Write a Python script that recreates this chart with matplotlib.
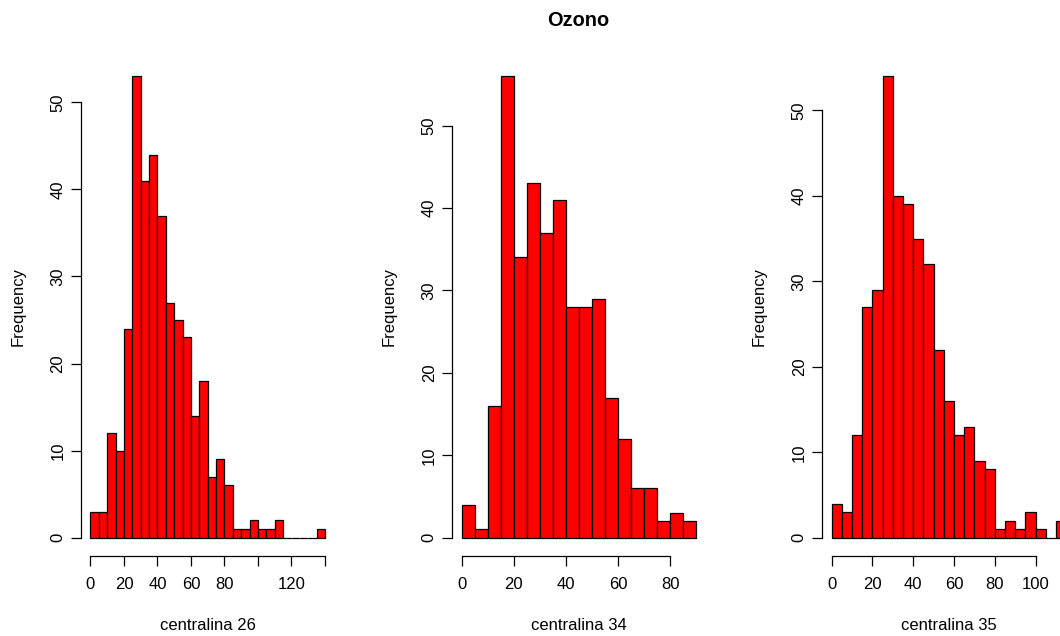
import numpy as np
import matplotlib
matplotlib.use("Agg")
import matplotlib.pyplot as plt

plt.rcParams['font.family'] = ['Liberation Sans', 'DejaVu Sans']

# Histogram counts per 5-unit bin, starting at 0
bin_width = 5
counts_26 = [3, 3, 12, 10, 24, 53, 41, 44, 37, 27, 25, 23, 14, 18, 7, 9, 6,
             1, 1, 2, 1, 1, 2, 0, 0, 0, 0, 1]
counts_34 = [4, 1, 16, 56, 34, 43, 37, 41, 28, 28, 29, 17, 12, 6, 6, 2, 3, 2]
counts_35 = [4, 3, 12, 27, 29, 54, 40, 39, 35, 32, 22, 16, 12, 13, 9, 8,
             1, 2, 1, 3, 1, 0, 2]

titles = ["centralina 26", "centralina 34", "centralina 35"]
xtick_values = [list(range(0, 141, 20)), list(range(0, 81, 20)), list(range(0, 101, 20))]
xtick_labels = [["0", "20", "40", "60", "80", "", "120", ""],
                ["0", "20", "40", "60", "80"],
                ["0", "20", "40", "60", "80", "100"]]
ytick_values = [0, 10, 20, 30, 40, 50]
main_title = "Ozono"

W, H = 1060, 636
fig = plt.figure(figsize=(W / 100, H / 100), dpi=100)

panel_left_px = [81.1, 452.3, 822.3]
panel_w_px = 253.2
panel_top_px, panel_bot_px = 57.7, 556.2

for i, (counts, xlab) in enumerate(zip([counts_26, counts_34, counts_35], titles)):
    rect = [panel_left_px[i] / W, 1 - panel_bot_px / H,
            panel_w_px / W, (panel_bot_px - panel_top_px) / H]
    ax = fig.add_axes(rect)
    counts = np.asarray(counts)
    edges = np.arange(len(counts) + 1) * bin_width
    ax.bar(edges[:-1], counts, width=bin_width, align='edge',
           color='#ff0000', edgecolor='black', linewidth=0.9)

    xmax = edges[-1]
    ax.set_xlim(-0.04 * xmax, 1.04 * xmax)
    ymax = counts.max()
    ax.set_ylim(-0.04 * ymax, 1.04 * ymax)

    for s in ['top', 'right']:
        ax.spines[s].set_visible(False)
    ax.spines['bottom'].set_bounds(xtick_values[i][0], xtick_values[i][-1])
    ax.spines['left'].set_bounds(ytick_values[0], ytick_values[-1])
    for s in ['bottom', 'left']:
        ax.spines[s].set_linewidth(0.9)

    ax.set_xticks(xtick_values[i])
    ax.set_xticklabels(xtick_labels[i])
    ax.set_yticks(ytick_values)
    ax.set_yticklabels([str(v) for v in ytick_values], rotation=90, va='center')
    ax.tick_params(axis='both', direction='out', length=7.2, width=0.9,
                   labelsize=12, colors='black')
    ax.tick_params(axis='x', pad=7.5)
    ax.tick_params(axis='y', pad=4)

    ax.set_xlabel(xlab, fontsize=12)
    ax.xaxis.set_label_coords(0.5, (panel_bot_px - 625) / (panel_bot_px - panel_top_px))
    ax.xaxis.label.set_va('center')
    ax.set_ylabel("Frequency", fontsize=12)
    ax.yaxis.set_label_coords(-63.1 / panel_w_px, 0.5)
    ax.yaxis.label.set_va('center')
    ax.patch.set_visible(False)

fig.text(578 / W, 1 - 20 / H, main_title, ha='center', va='center',
         fontsize=14.4, fontweight='bold')

fig.savefig("out.png", dpi=100)
